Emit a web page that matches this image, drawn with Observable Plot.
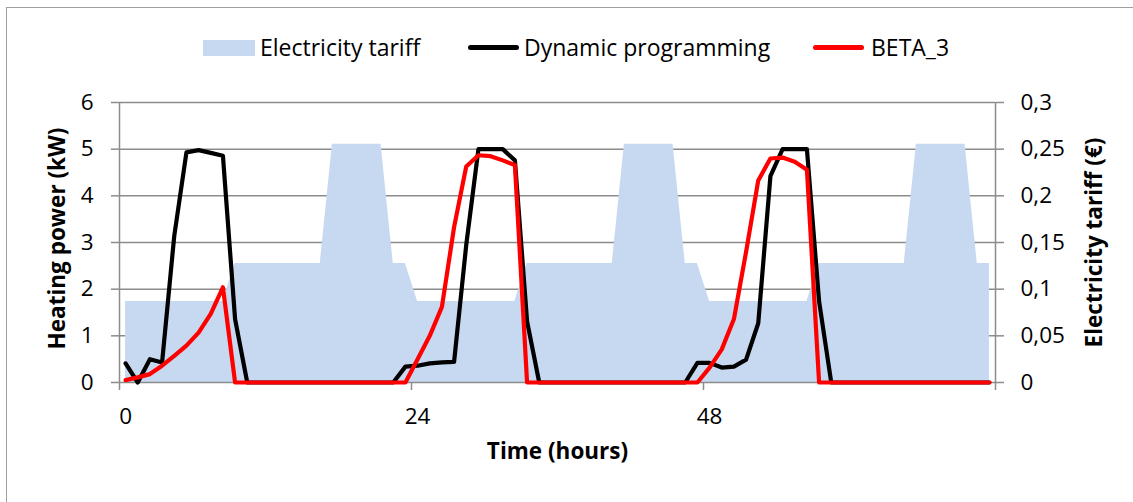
<!DOCTYPE html>
<html>
<head>
<meta charset="utf-8">
<script src="https://cdn.jsdelivr.net/npm/d3@7"></script>
<script src="https://cdn.jsdelivr.net/npm/@observablehq/plot@0.6"></script>
<style>
  html, body { margin: 0; padding: 0; background: #fff; }
  #wrap { position: relative; width: 1133px; height: 502px; overflow: hidden; font-family: "Open Sans", Lato, sans-serif; }
  #frame { position: absolute; left: 6px; top: 7px; width: 1300px; height: 700px; border: 1.5px solid #a0a0a0; box-sizing: border-box; }
  #chart { position: absolute; left: 0; top: 0; }
  .lg { position: absolute; }
  .lgtext { position: absolute; top: 47px; transform: translateY(-50%); font-size: 23px; color: #000; white-space: nowrap; line-height: 1; }
</style>
</head>
<body>
<div id="wrap">
  <div id="frame"></div>
  <div id="chart"></div>
  <div id="legend"></div>
</div>
<script>
// ---------- data ----------
const hours = d3.range(72); // time categories 0..71 (hourly)

const dynamicProgramming = [
  0.41, 0.00, 0.50, 0.43, 3.14, 4.93, 4.98, 4.92, 4.86, 1.36, 0.00, 0.00,
  0.00, 0.00, 0.00, 0.00, 0.00, 0.00, 0.00, 0.00, 0.00, 0.00, 0.00, 0.34,
  0.36, 0.41, 0.43, 0.44, 2.95, 5.00, 5.00, 5.00, 4.76, 1.31, 0.00, 0.00,
  0.00, 0.00, 0.00, 0.00, 0.00, 0.00, 0.00, 0.00, 0.00, 0.00, 0.00, 0.42,
  0.42, 0.32, 0.34, 0.49, 1.27, 4.42, 5.00, 5.00, 5.00, 1.74, 0.00, 0.00,
  0.00, 0.00, 0.00, 0.00, 0.00, 0.00, 0.00, 0.00, 0.00, 0.00, 0.00, 0.00
];

const beta3 = [
  0.05, 0.11, 0.18, 0.36, 0.57, 0.79, 1.07, 1.47, 2.04, 0.00, 0.00, 0.00,
  0.00, 0.00, 0.00, 0.00, 0.00, 0.00, 0.00, 0.00, 0.00, 0.00, 0.00, 0.00,
  0.50, 1.00, 1.62, 3.33, 4.63, 4.87, 4.85, 4.76, 4.66, 0.00, 0.00, 0.00,
  0.00, 0.00, 0.00, 0.00, 0.00, 0.00, 0.00, 0.00, 0.00, 0.00, 0.00, 0.00,
  0.32, 0.71, 1.36, 2.80, 4.33, 4.80, 4.82, 4.73, 4.56, 0.00, 0.00, 0.00,
  0.00, 0.00, 0.00, 0.00, 0.00, 0.00, 0.00, 0.00, 0.00, 0.00, 0.00, 0.00
];

// electricity tariff (€), hourly
const tariff = [
  0.0868, 0.0868, 0.0868, 0.0868, 0.0868, 0.0868, 0.0868, 0.0868, 0.0868, 0.1275, 0.1275, 0.1275,
  0.1275, 0.1275, 0.1275, 0.1275, 0.1275, 0.2554, 0.2554, 0.2554, 0.2554, 0.2554, 0.1275, 0.1275,
  0.0868, 0.0868, 0.0868, 0.0868, 0.0868, 0.0868, 0.0868, 0.0868, 0.0868, 0.1275, 0.1275, 0.1275,
  0.1275, 0.1275, 0.1275, 0.1275, 0.1275, 0.2554, 0.2554, 0.2554, 0.2554, 0.2554, 0.1275, 0.1275,
  0.0868, 0.0868, 0.0868, 0.0868, 0.0868, 0.0868, 0.0868, 0.0868, 0.0868, 0.1275, 0.1275, 0.1275,
  0.1275, 0.1275, 0.1275, 0.1275, 0.1275, 0.2554, 0.2554, 0.2554, 0.2554, 0.2554, 0.1275, 0.1275
];

const powerTicks = [0, 1, 2, 3, 4, 5, 6];
const powerTickLabels = ["0", "1", "2", "3", "4", "5", "6"];
const tariffTickLabels = ["0", "0,05", "0,1", "0,15", "0,2", "0,25", "0,3"];
const tariffMax = 0.3;  // right axis max matching power max 6
const powerMax = 6;
const timeTickLabels = [0, 24, 48];
const categoryBoundaries = [-0.5, 23.5, 47.5, 71.5];
const xDomain = [-0.5, 71.5];

const seriesNames = ["Electricity tariff", "Dynamic programming", "BETA_3"];
const yTitle = "Heating power (kW)";
const y2Title = "Electricity tariff (€)";
const xTitle = "Time (hours)";

// ---------- table ----------
const rows = hours.map((h, i) => ({
  h,
  dp: dynamicProgramming[i],
  beta: beta3[i],
  tariffScaled: tariff[i] * powerMax / tariffMax
}));

const grid = "#8c8c8c";
const font = "'Open Sans', Lato, sans-serif";
const fs = 22.5;

const chart = Plot.plot({
  width: 1133,
  height: 502,
  marginLeft: 119,
  marginRight: 138,
  marginTop: 102,
  marginBottom: 120,
  x: { domain: xDomain },
  y: { domain: [0, powerMax] },
  style: { fontFamily: font, fontSize: fs + "px", color: "#000", background: "transparent", overflow: "visible" },
  marks: [
    Plot.ruleY(powerTicks.filter(d => d > 0), { stroke: grid, strokeWidth: 1.5 }),
    Plot.areaY(rows, { x: "h", y: "tariffScaled", fill: "#c6d9f0", curve: "linear" }),
    Plot.ruleY([0], { stroke: grid, strokeWidth: 1.5 }),
    Plot.ruleX(xDomain, { stroke: grid, strokeWidth: 1.5 }),
    // left axis
    Plot.axisY({ anchor: "left", ticks: powerTicks, tickSize: 8, tickPadding: 18, stroke: grid, strokeWidth: 1.5, color: "#000", label: null, fontSize: fs,
      tickFormat: d => powerTickLabels[powerTicks.indexOf(d)] }),
    // right axis
    Plot.axisY({ anchor: "right", ticks: powerTicks, tickSize: 8, tickPadding: 17, stroke: grid, strokeWidth: 1.5, color: "#000", label: null, fontSize: fs,
      tickFormat: d => tariffTickLabels[powerTicks.indexOf(d)] }),
    // bottom axis tick marks at category boundaries
    Plot.axisX({ anchor: "bottom", ticks: categoryBoundaries, tickSize: 8, stroke: grid, strokeWidth: 1.5, tickFormat: () => "", label: null }),
    // bottom axis labels at category centers
    Plot.axisX({ anchor: "bottom", ticks: timeTickLabels, tickSize: 0, tickPadding: 26, color: "#000", label: null, fontSize: fs }),
    // series
    Plot.line(rows, { x: "h", y: "dp", stroke: "#000", strokeWidth: 4.2, strokeLinejoin: "round", strokeLinecap: "round" }),
    Plot.line(rows, { x: "h", y: "beta", stroke: "#ff0000", strokeWidth: 4.2, strokeLinejoin: "round", strokeLinecap: "round" }),
    // axis titles
    Plot.text([yTitle], { frameAnchor: "left", textAnchor: "middle", dx: -62, dy: -4, rotate: -90, fontWeight: "bold", fontSize: fs, fill: "#000" }),
    Plot.text([y2Title], { frameAnchor: "right", textAnchor: "middle", dx: 99, dy: 0, rotate: -90, fontWeight: "bold", fontSize: fs, fill: "#000" }),
    Plot.text([xTitle], { frameAnchor: "bottom", textAnchor: "middle", dy: 76, fontWeight: "bold", fontSize: fs, fill: "#000" })
  ]
});
document.getElementById("chart").appendChild(chart);

// ---------- legend ----------
const legend = document.getElementById("legend");
function add(html) { const d = document.createElement("div"); d.innerHTML = html; legend.appendChild(d.firstChild); }
add(`<div class="lg" style="left:203px;top:40px;width:52px;height:16px;background:#c6d9f0"></div>`);
add(`<div class="lgtext" style="left:260px">${seriesNames[0]}</div>`);
add(`<div class="lg" style="left:468px;top:44.5px;width:51px;height:5px;border-radius:3px;background:#000"></div>`);
add(`<div class="lgtext" style="left:524px">${seriesNames[1]}</div>`);
add(`<div class="lg" style="left:813px;top:44.5px;width:51px;height:5px;border-radius:3px;background:#ff0000"></div>`);
add(`<div class="lgtext" style="left:871px">${seriesNames[2]}</div>`);
</script>
</body>
</html>
